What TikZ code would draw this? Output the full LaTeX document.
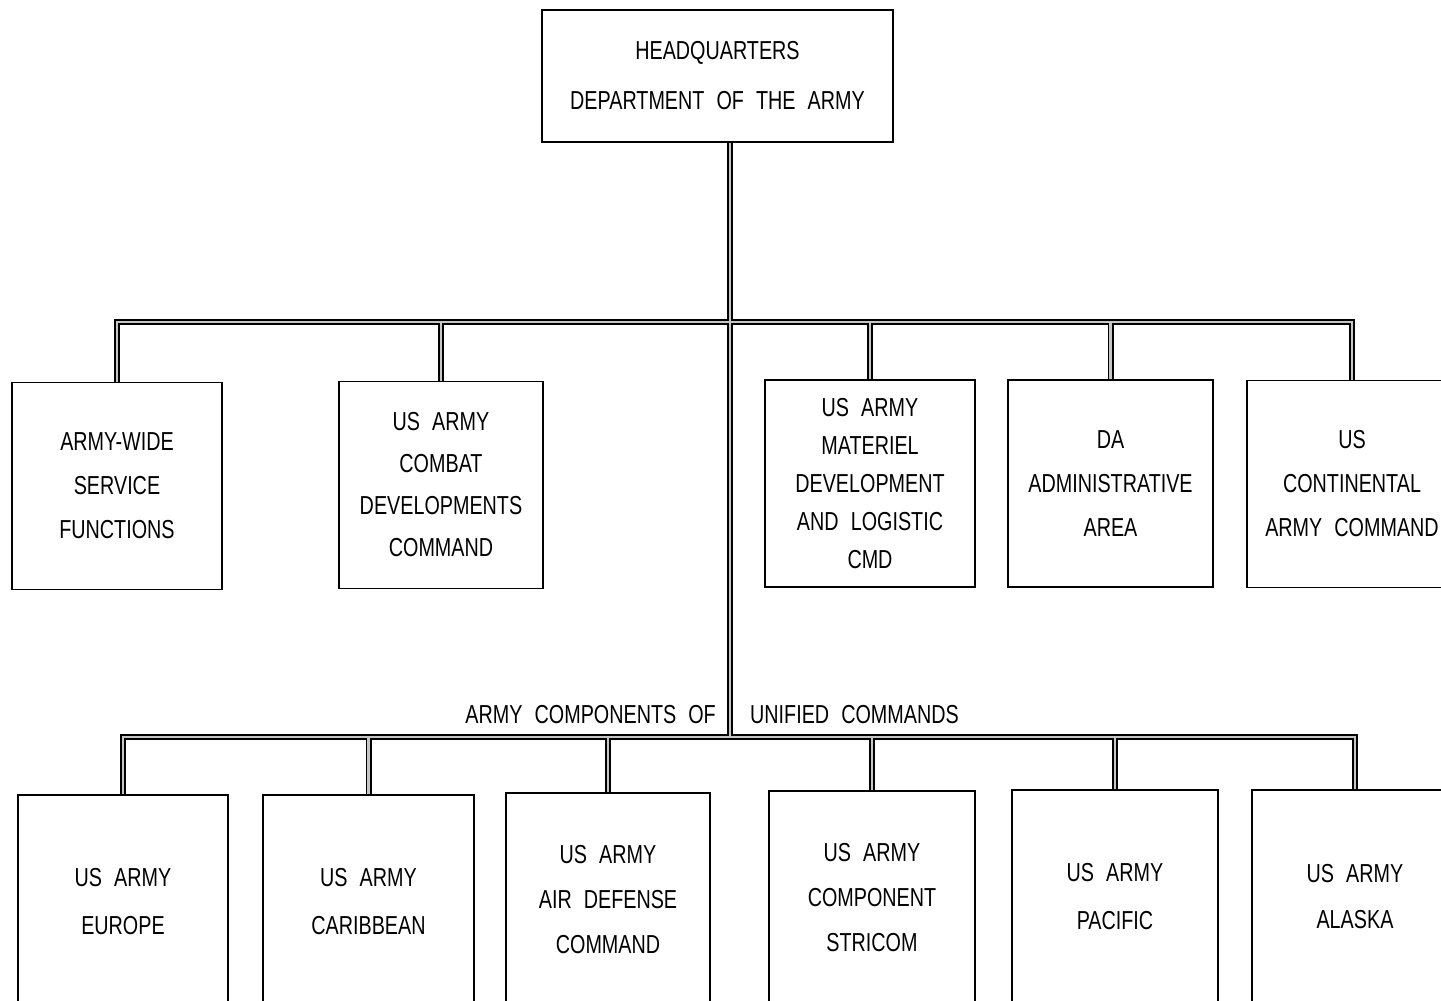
\documentclass[tikz,border=0pt]{standalone}
\usepackage{fontspec}
\newfontfamily\stencil[FakeStretch=0.76,WordSpace=2.2]{Liberation Sans}
\usetikzlibrary{backgrounds}

\newcommand\orgfont[1]{\stencil\fontsize{26}{#1}\selectfont}

% connectors of the chart, drawn twice (outline, then grey core)
\newcommand\orglinks{%
  \draw (hq.south -| j1) -- (j2);
  \draw (aws.north) |- (j1) -| (conarc.north);
  \foreach \n in {cdc,mdl,daa} \draw (\n.north) -- (\n.north |- j1);
  \draw (usareur.north) |- (j2) -| (usaral.north);
  \foreach \n in {usarso,arads,stricom,usarpac} \draw (\n.north) -- (\n.north |- j2);
}

\begin{document}
\begin{tikzpicture}[x=1pt,y=-1pt,
  box/.style={draw,line width=1.8pt,fill=white,align=center,inner sep=0pt,
    minimum height=207pt,font=\orgfont{44}},
  tag/.style={inner sep=0pt,font=\orgfont{44}}]

\useasboundingbox (0,0) rectangle (1441,1001);
\clip (0,0) rectangle (1441,1001);

% Headquarters
\node[box,minimum width=351pt,minimum height=132pt,font=\orgfont{50}] (hq) at (717.5,76)
  {HEADQUARTERS\\DEPARTMENT OF THE ARMY};

% Junctions of the two buses
\coordinate (j1) at (730,322);
\coordinate (j2) at (730,737);

% Upper row
\node[box,minimum width=210pt] (aws) at (117,486) {ARMY-WIDE\\SERVICE\\FUNCTIONS};
\node[box,minimum width=204pt,font=\orgfont{42}] (cdc) at (441,485)
  {US ARMY\\COMBAT\\DEVELOPMENTS\\COMMAND};
\node[box,minimum width=210pt,font=\orgfont{38}] (mdl) at (870,483.5)
  {US ARMY\\MATERIEL\\DEVELOPMENT\\AND LOGISTIC\\CMD};
\node[box,minimum width=205pt] (daa) at (1110.5,483.5) {DA\\ADMINISTRATIVE\\AREA};
\node[box,minimum width=210pt] (conarc) at (1352,484) {US\\CONTINENTAL\\ARMY COMMAND};

% Label on the lower bus
\node[tag,anchor=east] (acof) at (716,715) {ARMY COMPONENTS OF};
\node[tag,anchor=west] (ucmd) at (750,715) {UNIFIED COMMANDS};

% Lower row
\node[box,minimum width=210pt,minimum height=214pt,font=\orgfont{48}] (usareur) at (123,902)
  {US ARMY\\EUROPE};
\node[box,minimum width=211pt,minimum height=214pt,font=\orgfont{48}] (usarso) at (368.5,902)
  {US ARMY\\CARIBBEAN};
\node[box,minimum width=204pt,minimum height=214pt,font=\orgfont{45}] (arads) at (608,900)
  {US ARMY\\AIR DEFENSE\\COMMAND};
\node[box,minimum width=206pt,minimum height=214pt,font=\orgfont{45}] (stricom) at (872,898)
  {US ARMY\\COMPONENT\\STRICOM};
\node[box,minimum width=206pt,minimum height=214pt,font=\orgfont{48}] (usarpac) at (1115,897)
  {US ARMY\\PACIFIC};
\node[box,minimum width=206pt,minimum height=214pt,font=\orgfont{46}] (usaral) at (1355,897)
  {US ARMY\\ALASKA};

% Connectors
\begin{scope}[on background layer]
  \begin{scope}[line width=6pt] \orglinks \end{scope}
  \begin{scope}[line width=2.8pt,gray!45] \orglinks \end{scope}
\end{scope}

\end{tikzpicture}
\end{document}
